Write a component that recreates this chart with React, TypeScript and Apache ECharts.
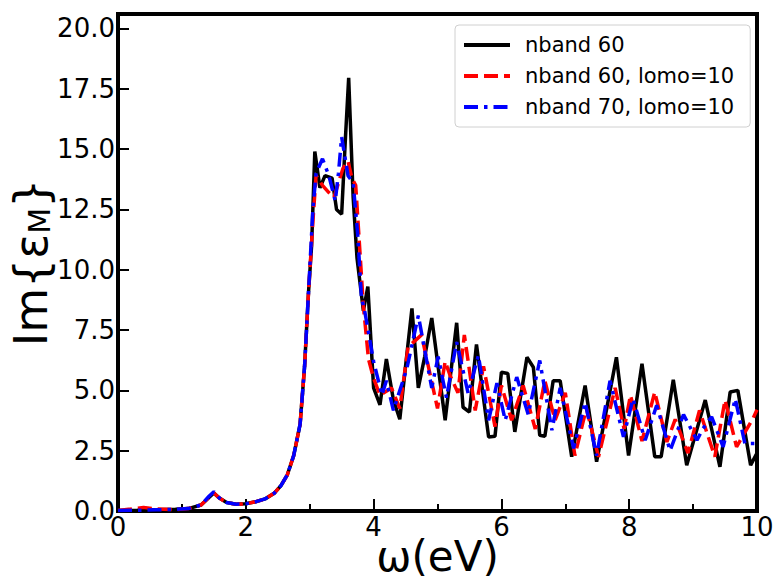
import React, { useEffect, useRef } from "react";
import * as echarts from "echarts";

const blackX = [0, 0.3, 0.6, 0.9, 1.1, 1.3, 1.42, 1.5, 1.58, 1.7, 1.85, 2.0, 2.15, 2.3, 2.45, 2.55, 2.65, 2.75, 2.85, 2.92, 2.98, 3.03, 3.08, 3.16, 3.24, 3.35, 3.42, 3.5, 3.56, 3.61, 3.68, 3.74, 3.84, 3.91, 4.0, 4.1, 4.2, 4.31, 4.41, 4.5, 4.6, 4.7, 4.8, 4.91, 5.12, 5.3, 5.4, 5.5, 5.61, 5.8, 5.9, 6.0, 6.1, 6.21, 6.4, 6.5, 6.6, 6.68, 6.81, 6.92, 7.1, 7.31, 7.49, 7.8, 7.99, 8.2, 8.4, 8.5, 8.69, 8.9, 9.19, 9.42, 9.58, 9.7, 9.9, 10.0];
const blackY = [0.02, 0.03, 0.05, 0.07, 0.1, 0.25, 0.55, 0.75, 0.55, 0.35, 0.28, 0.3, 0.38, 0.5, 0.75, 1.05, 1.5, 2.3, 3.6, 6.0, 9.0, 11.0, 14.9, 13.4, 13.9, 13.8, 12.5, 12.3, 15.5, 17.95, 13.0, 10.5, 8.3, 9.3, 5.1, 4.4, 6.3, 4.6, 3.8, 6.0, 8.4, 5.1, 6.4, 8.0, 3.76, 7.8, 4.3, 4.1, 6.9, 3.07, 3.1, 5.75, 5.7, 3.28, 6.37, 5.96, 3.14, 3.1, 5.4, 5.4, 2.25, 5.2, 2.04, 6.37, 2.3, 6.1, 2.25, 2.25, 5.44, 1.9, 4.6, 1.83, 4.93, 5.0, 1.9, 2.4];

const redX = [0, 0.2, 0.4, 0.6, 0.9, 1.1, 1.3, 1.42, 1.5, 1.58, 1.7, 1.85, 2.0, 2.15, 2.3, 2.45, 2.55, 2.65, 2.75, 2.85, 2.92, 2.98, 3.05, 3.1, 3.2, 3.3, 3.38, 3.45, 3.52, 3.6, 3.66, 3.72, 3.78, 3.84, 3.92, 4.0, 4.1, 4.28, 4.41, 4.54, 4.75, 5.0, 5.12, 5.2, 5.32, 5.42, 5.59, 5.72, 5.9, 6.0, 6.16, 6.34, 6.53, 6.68, 6.84, 7.0, 7.15, 7.33, 7.52, 7.78, 7.92, 8.02, 8.2, 8.4, 8.59, 8.72, 8.92, 9.1, 9.34, 9.5, 9.68, 9.94, 10.0];
const redY = [0.02, 0.08, 0.15, 0.08, 0.06, 0.1, 0.25, 0.55, 0.75, 0.55, 0.35, 0.28, 0.3, 0.38, 0.5, 0.75, 1.05, 1.5, 2.3, 3.6, 6.0, 9.0, 12.0, 13.9, 13.5, 13.2, 13.0, 13.6, 14.2, 14.5, 13.8, 13.5, 11.0, 8.5, 6.3, 5.5, 4.8, 5.1, 4.25, 6.8, 7.3, 4.25, 6.2, 5.6, 4.9, 7.3, 4.17, 6.0, 3.5, 5.2, 3.76, 5.2, 3.4, 5.4, 3.76, 4.9, 2.3, 4.25, 2.25, 5.1, 3.4, 4.8, 2.9, 4.93, 2.86, 3.8, 2.4, 4.17, 2.25, 4.6, 2.66, 3.85, 4.2];

const blueX = [0, 0.3, 0.6, 0.9, 1.1, 1.3, 1.42, 1.5, 1.58, 1.7, 1.85, 2.0, 2.15, 2.3, 2.45, 2.55, 2.65, 2.75, 2.85, 2.92, 2.98, 3.05, 3.1, 3.2, 3.3, 3.4, 3.45, 3.5, 3.6, 3.68, 3.75, 3.81, 3.86, 4.0, 4.13, 4.2, 4.31, 4.52, 4.7, 4.91, 5.01, 5.14, 5.3, 5.48, 5.64, 5.8, 5.93, 6.06, 6.24, 6.42, 6.6, 6.79, 6.92, 7.13, 7.31, 7.49, 7.7, 7.91, 8.06, 8.25, 8.43, 8.64, 8.85, 9.06, 9.15, 9.29, 9.47, 9.66, 9.81, 10.0];
const blueY = [0.02, 0.03, 0.05, 0.07, 0.1, 0.25, 0.6, 0.8, 0.55, 0.35, 0.28, 0.3, 0.38, 0.5, 0.75, 1.05, 1.5, 2.3, 3.6, 6.0, 9.0, 12.5, 14.0, 14.6, 13.9, 12.85, 14.0, 15.5, 13.9, 13.6, 11.5, 8.85, 8.3, 6.2, 4.8, 5.4, 4.17, 5.9, 8.1, 5.1, 6.4, 4.7, 7.0, 4.87, 6.45, 3.76, 5.3, 3.76, 5.55, 4.0, 6.24, 3.35, 5.1, 2.6, 4.5, 2.3, 5.4, 3.07, 4.65, 2.93, 4.38, 2.5, 4.0, 2.93, 3.4, 3.9, 2.66, 4.65, 2.8, 2.8];

const seriesNames = ["nband 60", "nband 60, lomo=10", "nband 70, lomo=10"];
const xTicks = [0, 2, 4, 6, 8, 10];
const yTicks = [0, 2.5, 5, 7.5, 10, 12.5, 15, 17.5, 20];

const zip = (xs: number[], ys: number[]) => xs.map((x, i) => [x, ys[i]]);

const FONT = "DejaVu Sans";

export default function App() {
  const ref = useRef<HTMLDivElement>(null);
  useEffect(() => {
    if (!ref.current) return;
    const chart = echarts.init(ref.current, undefined, { renderer: "svg" });
    chart.setOption({
      animation: false,
      backgroundColor: "#fff",
      textStyle: { fontFamily: FONT },
      grid: {
        left: 118,
        right: 17,
        top: 14,
        bottom: 70,
        containLabel: false,
        outerBoundsMode: "none",
        show: true,
        borderColor: "#000",
        borderWidth: 4,
        backgroundColor: "transparent",
      },
      legend: {
        left: 455,
        top: 25,
        orient: "vertical",
        padding: [9, 16, 9, 7],
        itemWidth: 46,
        itemHeight: 14,
        itemGap: 9,
        backgroundColor: "#fff",
        borderColor: "#d0d0d0",
        borderWidth: 1,
        borderRadius: 4,
        data: seriesNames,
        itemStyle: { opacity: 0, borderWidth: 0 },
        lineStyle: { width: 4 },
        textStyle: {
          fontFamily: FONT,
          fontSize: 21,
          color: "#000",
          lineHeight: 22,
          padding: [0, 0, 0, 10],
        },
      },
      xAxis: {
        type: "value",
        min: 0,
        max: 10,
        interval: 2,
        name: "ω(eV)",
        nameLocation: "middle",
        nameGap: 24,
        nameMoveOverlap: false,
        nameTextStyle: { fontFamily: FONT, fontSize: 42, color: "#000" },
        axisLine: { show: true, onZero: false, lineStyle: { color: "#000", width: 4 } },
        axisTick: { show: true, inside: true, length: 12, lineStyle: { color: "#000", width: 2 } },
        minorTick: { show: true, splitNumber: 2, length: 7, lineStyle: { color: "#000", width: 2 } },
        axisLabel: {
          fontFamily: FONT,
          fontSize: 26,
          color: "#000",
          margin: 3,
          formatter: (v: number) => (xTicks.includes(v) ? String(v) : ""),
        },
        splitLine: { show: false },
      },
      yAxis: {
        type: "value",
        min: 0,
        max: 20.6,
        interval: 2.5,
        name: "Im{ε{sub|M}}",
        nameLocation: "middle",
        nameGap: 64,
        nameRotate: 90,
        nameMoveOverlap: false,
        nameTextStyle: {
          fontFamily: FONT,
          fontSize: 46,
          color: "#000",
          rich: {
            sub: { fontFamily: FONT, fontSize: 30, color: "#000", verticalAlign: "bottom", padding: [16, 0, 0, 0] },
          },
        },
        axisLine: { show: true, onZero: false, lineStyle: { color: "#000", width: 4 } },
        axisTick: { show: true, inside: true, length: 11, lineStyle: { color: "#000", width: 2 } },
        axisLabel: {
          fontFamily: FONT,
          fontSize: 26,
          color: "#000",
          margin: 3,
          showMaxLabel: false,
          formatter: (v: number) => (yTicks.includes(v) ? v.toFixed(1) : ""),
        },
        splitLine: { show: false },
      },
      series: [
        {
          name: seriesNames[0],
          type: "line",
          data: zip(blackX, blackY),
          showSymbol: false,
          symbol: "none",
          lineStyle: { color: "#000", width: 3.5, type: "solid" },
          itemStyle: { color: "#000" },
        },
        {
          name: seriesNames[1],
          type: "line",
          data: zip(redX, redY),
          showSymbol: false,
          symbol: "none",
          lineStyle: { color: "#ff0000", width: 3.5, type: [14, 6] },
          itemStyle: { color: "#ff0000" },
        },
        {
          name: seriesNames[2],
          type: "line",
          data: zip(blueX, blueY),
          showSymbol: false,
          symbol: "none",
          lineStyle: { color: "#0000ff", width: 3.5, type: [14, 6, 3.5, 6] },
          itemStyle: { color: "#0000ff" },
        },
      ],
    });
    return () => chart.dispose();
  }, []);
  return (
    <div
      ref={ref}
      style={{ position: "absolute", left: 0, top: 0, width: 774, height: 581 }}
    />
  );
}
